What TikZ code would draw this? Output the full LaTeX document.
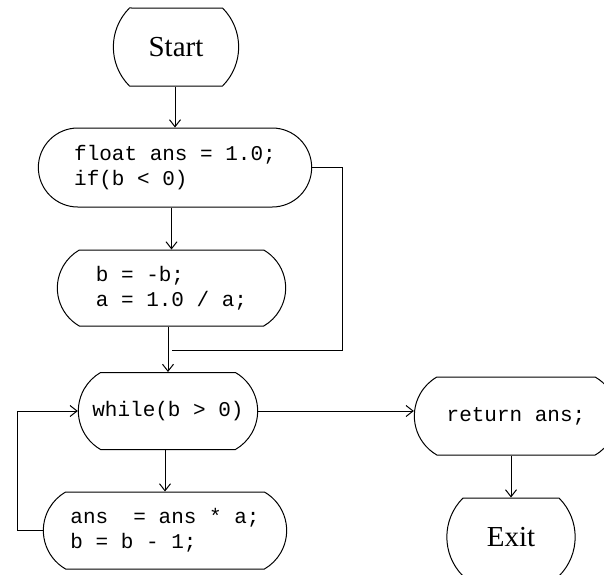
\documentclass[tikz,border=0pt]{standalone}
\usepackage{fontspec}
\setmainfont{Liberation Serif}
\setmonofont{Liberation Mono}
\usetikzlibrary{shapes.misc, arrows.meta}
\tikzstyle{flowChart} = [x = 1pt, y = -1pt, line width = 1pt]
\tikzstyle{termBox} = [draw, rounded rectangle, rounded rectangle arc length = 90, font = \fontsize{29}{33}\selectfont]
\tikzstyle{codeBox} = [draw, rounded rectangle, rounded rectangle arc length = 120, align = left, font = \fontsize{21}{25}\ttfamily]
\tikzstyle{flowArrow} = [-{Straight Barb[length = 7pt, width = 11pt]}]

\begin{document}
\begin{tikzpicture}[flowChart]
        \useasboundingbox (0,0) rectangle (604,574);
        \clip (0,0) rectangle (604,574);

        % left column
        \node [termBox, minimum width = 132pt, minimum height = 78pt] (start) at (176,47) {Start};
        \node [codeBox, rounded rectangle arc length = 180, minimum width = 280pt, minimum height = 79pt] (init) at (175,167.5) {float ans = 1.0;\\if(b < 0)};
        \node [codeBox, minimum width = 235pt, minimum height = 76pt] (neg) at (171.5,288) {b = -b;\\a = 1.0 / a;};
        \node [codeBox, minimum width = 186pt, minimum height = 77pt] (loop) at (168,411) {while(b > 0)};
        \node [codeBox, minimum width = 250pt, minimum height = 77pt] (body) at (165,530.5) {ans\ \ = ans * a;\\b = b - 1;};

        % right column
        \node [codeBox, minimum width = 210pt, minimum height = 78pt] (ret) at (516,416) {return ans;};
        \node [termBox, minimum width = 135pt, minimum height = 78pt] (exit) at (511,537) {Exit};

        \coordinate (joinPoint) at (171.5,350);

        \draw [flowArrow] (start.south -| init.north) -- (init.north);
        \draw [flowArrow] (init.south -| neg.north) -- (neg.north);
        \draw (init.east) -- ++(30,0) |- (joinPoint);
        \draw [flowArrow] (neg.south -| loop.north) -- (loop.north);
        \draw [flowArrow] (loop.south -| body.north) -- (body.north);
        \draw [flowArrow] (body.west) -- ++(-25,0) |- (loop.west);
        \draw [flowArrow] (loop.east) -- (loop.east -| ret.west);
        \draw [flowArrow] (ret.south -| exit.north) -- (exit.north);
      \end{tikzpicture}
\end{document}
